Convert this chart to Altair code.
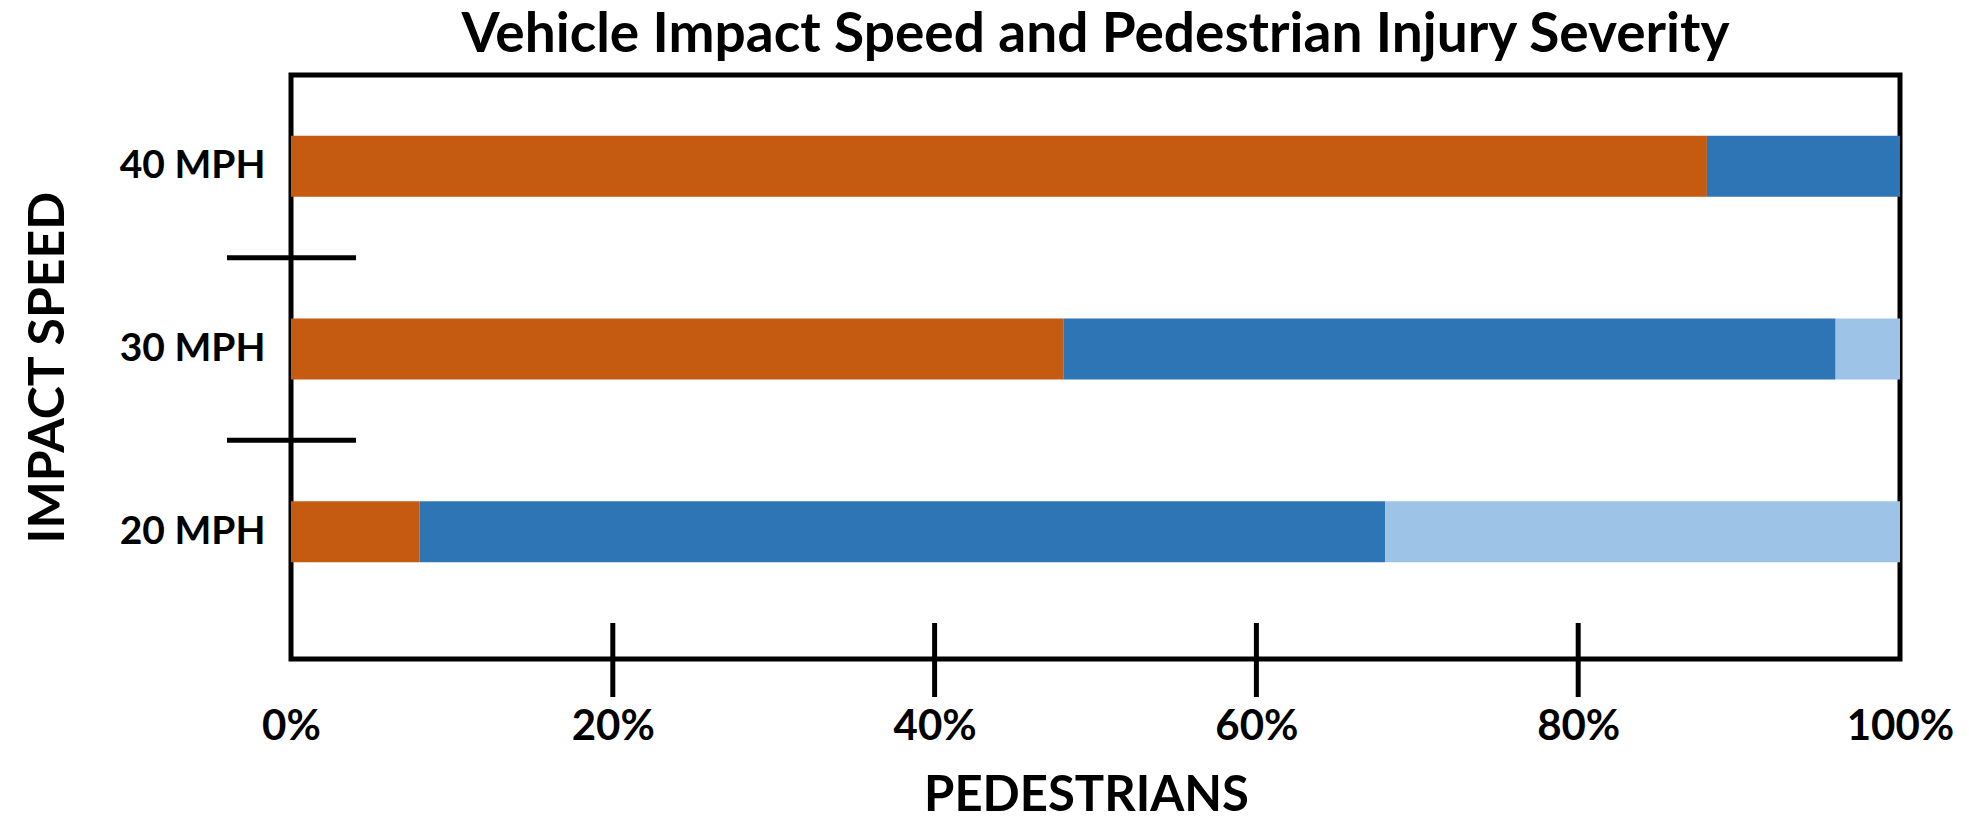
import altair as alt
import pandas as pd

# ---- data ----
speeds = ["40 MPH", "30 MPH", "20 MPH"]
severity = ["Killed", "Injured", "Uninjured"]
killed = [88, 48, 8]
injured = [12, 48, 60]
uninjured = [0, 4, 32]
colors = ["#C55A11", "#2E75B6", "#9DC3E6"]
x_label_values = [0, 20, 40, 60, 80, 100]
x_tick_values = [20, 40, 60, 80]
y_tick_between = ["30 MPH", "20 MPH"]

rows = []
for i, s in enumerate(speeds):
    for j, (sev, vals) in enumerate(zip(severity, [killed, injured, uninjured])):
        rows.append({"speed": s, "severity": sev, "pct": vals[i], "ord": j})
df = pd.DataFrame(rows)

W, H = 1609, 584
FONT = "Lato"

yscale = alt.Scale(domain=speeds, paddingInner=0, paddingOuter=0.0985, align=0)
xscale = alt.Scale(domain=[0, 100], nice=False)

x_axis = alt.Axis(
    values=x_label_values, labelExpr="datum.value + '%'", ticks=False,
    domain=False, grid=False, labelPadding=47, labelFont=FONT,
    labelFontSize=42, labelFontWeight="bold", labelColor="black",
    labelFlush=False, titleFont=FONT, titleFontSize=49,
    titleFontWeight="bold", titleColor="black", titleBaseline="alphabetic",
    titleY=151, titleX=795,
)
y_axis = alt.Axis(
    ticks=False, domain=False, grid=False, labelPadding=26,
    labelFont=FONT, labelFontSize=39, labelFontWeight="bold",
    labelColor="black", titleFont=FONT, titleFontSize=50,
    titleFontWeight="bold", titleColor="black", titleAngle=-90,
    titleBaseline="alphabetic", titleAlign="center", titleX=-228, titleY=292,
)

bars = alt.Chart(df).mark_bar(size=61).encode(
    x=alt.X("pct:Q", stack="zero", scale=xscale, title="PEDESTRIANS", axis=x_axis),
    y=alt.Y("speed:N", sort=speeds, scale=yscale, title="IMPACT SPEED", axis=y_axis),
    color=alt.Color("severity:N", scale=alt.Scale(domain=severity, range=colors), legend=None),
    order=alt.Order("ord:Q"),
)

ytick = alt.Chart(pd.DataFrame({"speed": y_tick_between})).mark_rule(
    color="black", strokeWidth=5
).encode(
    y=alt.Y("speed:N", sort=speeds, scale=yscale, bandPosition=0,
            title="IMPACT SPEED", axis=y_axis),
    x=alt.value(-64),
    x2=alt.value(65),
)

xtick = alt.Chart(pd.DataFrame({"pct": x_tick_values})).mark_rule(
    color="black", strokeWidth=5
).encode(
    x=alt.X("pct:Q", scale=xscale, title="PEDESTRIANS", axis=x_axis),
    y=alt.value(548),
    y2=alt.value(622),
)

chart = alt.layer(bars, ytick, xtick).properties(
    width=W,
    height=H,
    title=alt.TitleParams(
        "Vehicle Impact Speed and Pedestrian Injury Severity",
        font=FONT, fontSize=55, fontWeight="bold", color="black",
        anchor="middle", baseline="alphabetic", offset=25, dy=57,
    ),
    autosize=alt.AutoSizeParams(type="none"),
    padding={"left": 283, "top": 67, "right": 61, "bottom": 156},
).configure(
    background="white"
).configure_view(
    stroke="black", strokeWidth=5
)

chart.save("out.html", embed_options={"renderer": "svg", "actions": False})
